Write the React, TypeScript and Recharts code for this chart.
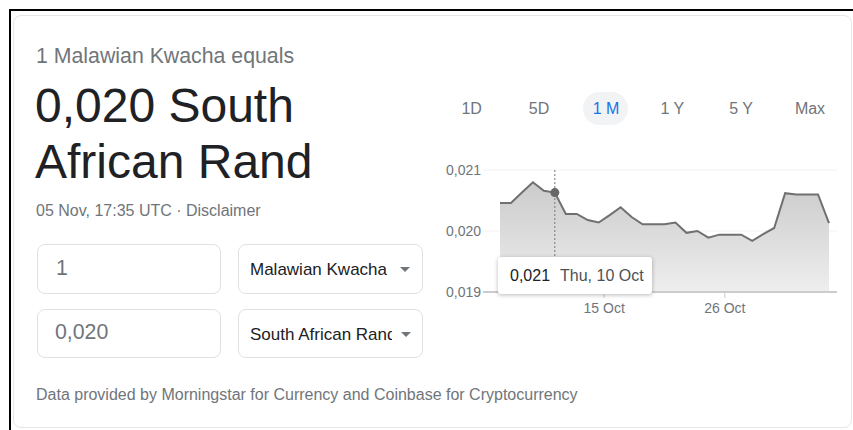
import React from "react";
import { AreaChart, Area, XAxis, YAxis, CartesianGrid, Tooltip } from "recharts";

const dates = [
  "2024-10-05T12:00:00Z", "2024-10-06T12:00:00Z", "2024-10-07T12:00:00Z", "2024-10-08T12:00:00Z",
  "2024-10-09T12:00:00Z", "2024-10-10T12:00:00Z", "2024-10-11T12:00:00Z", "2024-10-12T12:00:00Z",
  "2024-10-13T12:00:00Z", "2024-10-14T12:00:00Z", "2024-10-15T12:00:00Z", "2024-10-16T12:00:00Z",
  "2024-10-17T12:00:00Z", "2024-10-18T12:00:00Z", "2024-10-19T12:00:00Z", "2024-10-20T12:00:00Z",
  "2024-10-21T12:00:00Z", "2024-10-22T12:00:00Z", "2024-10-23T12:00:00Z", "2024-10-24T12:00:00Z",
  "2024-10-25T12:00:00Z", "2024-10-26T12:00:00Z", "2024-10-27T12:00:00Z", "2024-10-28T12:00:00Z",
  "2024-10-29T12:00:00Z", "2024-10-30T12:00:00Z", "2024-10-31T12:00:00Z", "2024-11-01T12:00:00Z",
  "2024-11-02T12:00:00Z", "2024-11-03T12:00:00Z", "2024-11-04T12:00:00Z",
];

const rates = [
  0.02046, 0.02046, 0.02063, 0.0208, 0.02066, 0.02063, 0.02028, 0.02028,
  0.02018, 0.02014, 0.02026, 0.02039, 0.02023, 0.02011, 0.02011, 0.02011,
  0.02014, 0.01997, 0.02, 0.01989, 0.01994, 0.01994, 0.01994, 0.01984,
  0.01995, 0.02005, 0.02062, 0.0206, 0.0206, 0.0206, 0.02013,
];

const xTickDates = ["2024-10-15T00:00:00Z", "2024-10-26T00:00:00Z"];
const xTickLabels = ["15 Oct", "26 Oct"];
const yTicks = [0.019, 0.02, 0.021];
const periods = ["1D", "5D", "1 M", "1 Y", "5 Y", "Max"];
const weekdays = ["Sun", "Mon", "Tue", "Wed", "Thu", "Fri", "Sat"];
const months = ["Jan", "Feb", "Mar", "Apr", "May", "Jun", "Jul", "Aug", "Sep", "Oct", "Nov", "Dec"];

const data = dates.map((d, i) => ({ t: Date.parse(d), v: rates[i] }));
const xTicks = xTickDates.map((d) => Date.parse(d));

const fmt = (v: number) => v.toFixed(3).replace(".", ",");

const FONT = '"Liberation Sans", Arial, sans-serif';
const GRAY = "#70757a";

const TipContent = (props: any) => {
  const { active, payload } = props;
  if (!active || !payload || !payload.length) return null;
  const p = payload[0].payload;
  const dt = new Date(p.t);
  const label = `${weekdays[dt.getUTCDay()]}, ${dt.getUTCDate()} ${months[dt.getUTCMonth()]}`;
  return (
    <div
      style={{
        background: "#fff",
        borderRadius: 3,
        boxShadow: "0 1px 4px rgba(0,0,0,0.28)",
        height: 37,
        width: 154,
        boxSizing: "border-box",
        padding: "0 12px",
        display: "flex",
        alignItems: "center",
        fontSize: 16,
        fontFamily: FONT,
        whiteSpace: "nowrap",
      }}
    >
      <span style={{ color: "#202124" }}>{fmt(p.v)}</span>
      <span style={{ color: "#4d5156", marginLeft: 10 }}>{label}</span>
    </div>
  );
};

const Txt = ({ left, top, size, color, children, width }: any) => (
  <div
    style={{
      position: "absolute",
      left,
      top,
      fontSize: size,
      lineHeight: `${size}px`,
      color,
      whiteSpace: "nowrap",
      width,
      overflow: width ? "hidden" : undefined,
    }}
  >
    {children}
  </div>
);

const Box = ({ left, top, width, height }: any) => (
  <div
    style={{
      position: "absolute",
      left,
      top,
      width,
      height,
      boxSizing: "border-box",
      border: "1px solid #dfe1e5",
      borderRadius: 8,
    }}
  />
);

const Tri = ({ left, top }: any) => (
  <div
    style={{
      position: "absolute",
      left,
      top,
      width: 0,
      height: 0,
      borderLeft: "5px solid transparent",
      borderRight: "5px solid transparent",
      borderTop: "5px solid #70757a",
    }}
  />
);

const periodCenters = [471.7, 539, 606, 672.3, 741, 810];

export default function App() {
  return (
    <div
      style={{
        position: "absolute",
        left: 0,
        top: 0,
        width: 853,
        height: 430,
        overflow: "hidden",
        background: "#fff",
        fontFamily: FONT,
      }}
    >
      <div
        style={{
          position: "absolute",
          left: 9,
          top: 9,
          width: 860,
          height: 440,
          borderTop: "2px solid #000",
          borderLeft: "2px solid #000",
        }}
      />
      <div
        style={{
          position: "absolute",
          left: 13,
          top: 15,
          width: 839,
          height: 413,
          boxSizing: "border-box",
          border: "1px solid #e6e6e6",
          borderRadius: 8,
        }}
      />

      <Txt left={36} top={46.3} size={21.3} color={GRAY}>1 Malawian Kwacha equals</Txt>
      <Txt left={35} top={82.1} size={48} color="#202124">0,020 South</Txt>
      <Txt left={35} top={137.7} size={48} color="#202124">African Rand</Txt>
      <Txt left={36} top={202.5} size={16} color={GRAY}>05 Nov, 17:35 UTC · Disclaimer</Txt>

      <Box left={37} top={244} width={184} height={50} />
      <Box left={238} top={244} width={185} height={50} />
      <Box left={37} top={309} width={184} height={49} />
      <Box left={238} top={309} width={185} height={49} />
      <Txt left={56} top={257.7} size={21.3} color={GRAY}>1</Txt>
      <Txt left={55} top={322} size={21.3} color={GRAY}>0,020</Txt>
      <Txt left={250} top={261.3} size={17} color="#202124">Malawian Kwacha</Txt>
      <Txt left={250} top={325.6} size={17} color="#202124" width={142}>South African Rand</Txt>
      <Tri left={400} top={267} />
      <Tri left={401} top={332} />

      <Txt left={36} top={386.5} size={16} color={GRAY}>
        Data provided by Morningstar for Currency and Coinbase for Cryptocurrency
      </Txt>

      <div
        style={{
          position: "absolute",
          left: 583,
          top: 92,
          width: 45,
          height: 33,
          borderRadius: 16.5,
          background: "#f1f3f4",
        }}
      />
      {periods.map((p, i) => (
        <div
          key={p}
          style={{
            position: "absolute",
            left: periodCenters[i] - 30,
            width: 60,
            textAlign: "center",
            top: 100.8,
            fontSize: 16,
            lineHeight: "16px",
            color: p === "1 M" ? "#1a73e8" : GRAY,
          }}
        >
          {p}
        </div>
      ))}

      <div style={{ position: "absolute", left: 430, top: 160 }}>
        <AreaChart
          width={407}
          height={162}
          data={data}
          margin={{ top: 10, right: 0, bottom: 0, left: 0 }}
        >
          <defs>
            <linearGradient id="areaFill" x1="0" y1="0" x2="0" y2="1">
              <stop offset="0%" stopColor="#cbcbcb" />
              <stop offset="100%" stopColor="#eeeeee" />
            </linearGradient>
          </defs>
          <CartesianGrid horizontal vertical={false} stroke="#f2f2f2" />
          <XAxis
            dataKey="t"
            type="number"
            domain={["dataMin", "dataMax"]}
            padding={{ left: 17, right: 8 }}
            ticks={xTicks}
            tickFormatter={(v: number) => xTickLabels[xTicks.indexOf(v)] ?? ""}
            axisLine={{ stroke: "#cccccc", strokeWidth: 2 }}
            tickLine={{ stroke: "#cccccc" }}
            tickSize={6}
            tickMargin={5}
            height={30}
            tick={{ fill: GRAY, fontSize: 14 }}
          />
          <YAxis
            domain={[0.019, 0.021]}
            ticks={yTicks}
            tickFormatter={fmt}
            axisLine={false}
            tickLine={false}
            tickSize={0}
            tickMargin={2}
            width={53}
            tick={{ fill: GRAY, fontSize: 14 }}
          />
          <Tooltip
            defaultIndex={5}
            active
            content={<TipContent />}
            position={{ x: 68, y: 97 }}
            cursor={{ stroke: "#777", strokeWidth: 1, strokeDasharray: "2 2" }}
            isAnimationActive={false}
          />
          <Area
            type="linear"
            dataKey="v"
            stroke="#707070"
            strokeWidth={2}
            fill="url(#areaFill)"
            fillOpacity={1}
            dot={false}
            activeDot={{ r: 4.5, fill: "#666", stroke: "none" }}
            isAnimationActive={false}
          />
        </AreaChart>
      </div>
    </div>
  );
}
